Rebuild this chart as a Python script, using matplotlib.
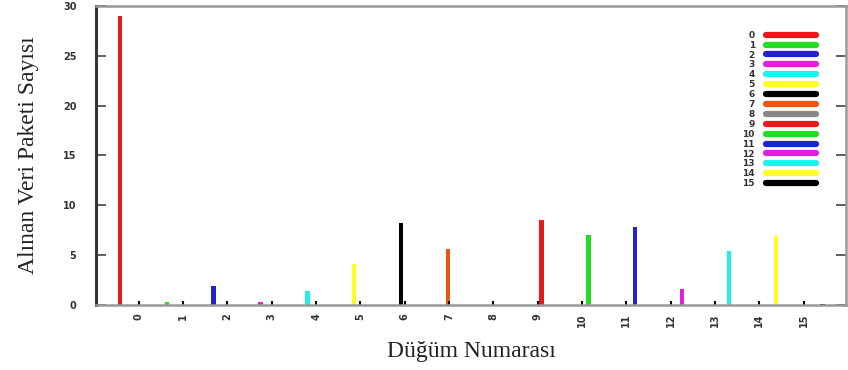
import numpy as np
import matplotlib.pyplot as plt
from matplotlib.lines import Line2D

# Veriler
dugumler = list(range(16))
paket_sayisi = [29.0, 0.3, 1.9, 0.3, 1.4, 4.1, 8.2, 5.6, 0.0, 8.5, 7.0, 7.8, 1.6, 5.4, 6.9, 0.1]
renkler = ['#e41a1c', '#22dd22', '#2222cc', '#dd22dd', '#22eeee', '#ffff22', '#000000', '#ee5511',
           '#888888', '#e41a1c', '#22dd22', '#2222cc', '#dd22dd', '#22eeee', '#ffff22', '#000000']
etiketler = [str(d) for d in dugumler]

fig = plt.figure(figsize=(8.48, 3.70), dpi=100)
ax = fig.add_axes([0.113, 0.176, 0.885, 0.808])

# kümelenmiş histogram: seri i sadece düğüm i'de
genislik = 0.057
x = np.array(dugumler, dtype=float)
konum = x + (x - 7.5) * genislik
ax.bar(konum, paket_sayisi, width=0.1, color=renkler, linewidth=0)

ax.set_xlim(-0.97, 15.96)
ax.set_ylim(0, 30)
ax.set_yticks([0, 5, 10, 15, 20, 25, 30])
ax.set_xticks(dugumler)
ax.set_xticklabels(etiketler, rotation=90, fontsize=7, fontweight='bold', color='#333333')
for t in ax.get_yticklabels():
    t.set_fontsize(7)
    t.set_fontweight('bold')
    t.set_color('#333333')

ax.tick_params(axis='y', direction='in', length=7, width=1.2, color='#444444',
               right=True, pad=14)
ax.tick_params(axis='x', direction='in', length=3, width=1.5, color='black', pad=6)

ax.spines['left'].set_linewidth(2.2)
ax.spines['left'].set_color('#333333')
for s in ['top', 'bottom', 'right']:
    ax.spines[s].set_linewidth(1.8)
    ax.spines[s].set_color('#999999')

ax.set_xlabel('Düğüm Numarası', family='Liberation Serif', fontsize=17, color='#222222', labelpad=10)
ax.set_ylabel('Alınan Veri Paketi Sayısı', family='Liberation Serif', fontsize=17, color='#222222', labelpad=17)

tutamaclar = [Line2D([0], [0], color=c, lw=4.5, solid_capstyle='round') for c in renkler]
leg = ax.legend(tutamaclar, etiketler, loc='upper right', bbox_to_anchor=(0.966, 0.932),
                frameon=False, markerfirst=False, prop={'weight': 'bold', 'size': 6.5},
                handlelength=5.6, handletextpad=1.2, labelspacing=0.1, borderpad=0)
for t in leg.get_texts():
    t.set_color('#333333')

fig.savefig('out.png', dpi=100)
